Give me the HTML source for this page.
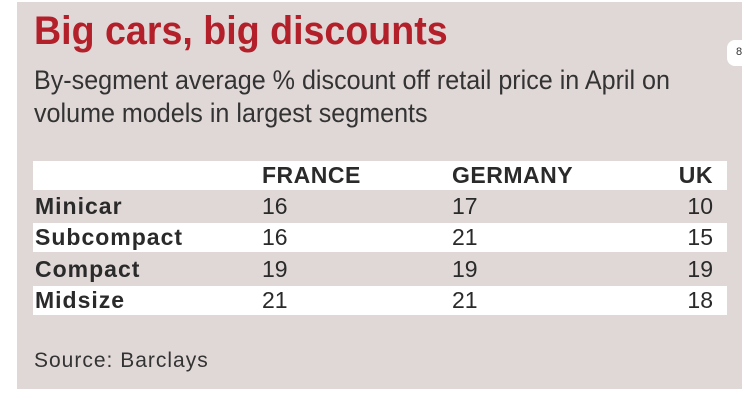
<!DOCTYPE html>
<html><head><meta charset="utf-8"><style>
body{margin:0;width:750px;height:400px;background:#fff;position:relative;overflow:hidden;font-family:"Liberation Sans",sans-serif;}
.panel{position:absolute;left:17px;top:2px;width:725px;height:387px;background:#e0d8d7;}
.t{position:absolute;white-space:nowrap;transform-origin:0 0;}
.title{left:34px;top:9px;font-size:40px;font-weight:bold;color:#b3202a;transform:scaleX(0.94);}
.sub{left:34px;font-size:27px;color:#333;transform:scaleX(0.93);}
.row{position:absolute;left:33px;width:694px;height:29px;}
.w{background:#fff;}
.c{position:absolute;font-size:23px;color:#2a2a2a;top:0;line-height:29px;}
.b{font-weight:bold;letter-spacing:0.5px;}
.tab{position:absolute;left:727px;top:40px;width:30px;height:26px;background:#fff;border-radius:8px;font-size:11px;color:#333;}
</style></head><body>
<div class="panel"></div>
<div class="tab"><span style="position:absolute;left:9px;top:6px">8</span></div>
<div class="t title">Big cars, big discounts</div>
<div class="t sub" style="top:65px">By-segment average % discount off retail price in April on</div>
<div class="t sub" style="top:98px">volume models in largest segments</div>

<div class="row w" style="top:161px"><span class="c b" style="left:229px">FRANCE</span><span class="c b" style="left:419px">GERMANY</span><span class="c b" style="right:14px">UK</span></div>
<div class="row" style="top:192px"><span class="c b" style="left:2px;letter-spacing:1px">Minicar</span><span class="c" style="left:229px">16</span><span class="c" style="left:419px">17</span><span class="c" style="right:14px">10</span></div>
<div class="row w" style="top:223px"><span class="c b" style="left:2px;letter-spacing:1px">Subcompact</span><span class="c" style="left:229px">16</span><span class="c" style="left:419px">21</span><span class="c" style="right:14px">15</span></div>
<div class="row" style="top:255px"><span class="c b" style="left:2px;letter-spacing:1px">Compact</span><span class="c" style="left:229px">19</span><span class="c" style="left:419px">19</span><span class="c" style="right:14px">19</span></div>
<div class="row w" style="top:286px"><span class="c b" style="left:2px;letter-spacing:1px">Midsize</span><span class="c" style="left:229px">21</span><span class="c" style="left:419px">21</span><span class="c" style="right:14px">18</span></div>

<div class="t" style="left:34px;top:349px;font-size:21px;color:#333;letter-spacing:1px">Source: Barclays</div>
</body></html>
